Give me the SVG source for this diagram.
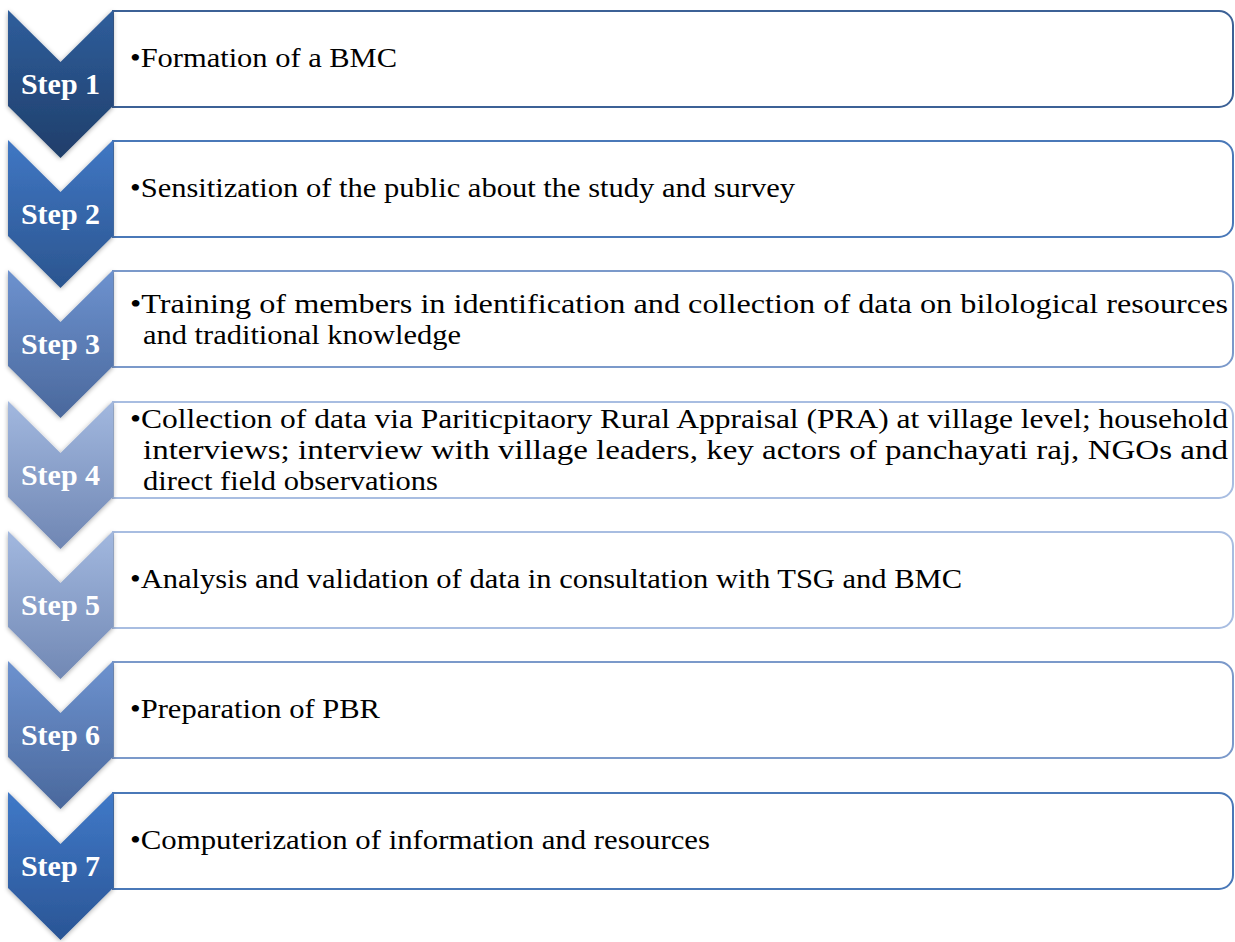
<svg xmlns="http://www.w3.org/2000/svg" width="1235" height="942" viewBox="0 0 1235 942">
<style>
.box{fill:#ffffff;stroke-width:2}
.lbl{font-family:"Liberation Serif","Times New Roman",serif;font-weight:bold;font-size:30px;fill:#ffffff;text-anchor:middle}
.txt{font-family:"Liberation Serif","Times New Roman",serif;font-size:28px;fill:#000000}
.chev{filter:url(#sh)}
</style>
<defs>
<filter id="sh" x="-20%" y="-20%" width="140%" height="140%">
<feGaussianBlur in="SourceAlpha" stdDeviation="2.5"/>
<feOffset dx="0" dy="1" result="b"/>
<feComponentTransfer><feFuncA type="linear" slope="0.35"/></feComponentTransfer>
<feMerge><feMergeNode/><feMergeNode in="SourceGraphic"/></feMerge>
</filter>
<linearGradient id="g1" x1="0" y1="0" x2="0" y2="1"><stop offset="0" stop-color="#2f5e9c"/><stop offset="1" stop-color="#1f3e6a"/></linearGradient>
<linearGradient id="g2" x1="0" y1="0" x2="0" y2="1"><stop offset="0" stop-color="#4077c4"/><stop offset="1" stop-color="#2b558f"/></linearGradient>
<linearGradient id="g3" x1="0" y1="0" x2="0" y2="1"><stop offset="0" stop-color="#6d92cf"/><stop offset="1" stop-color="#4a689c"/></linearGradient>
<linearGradient id="g4" x1="0" y1="0" x2="0" y2="1"><stop offset="0" stop-color="#a2b8df"/><stop offset="1" stop-color="#6f86b3"/></linearGradient>
<linearGradient id="g5" x1="0" y1="0" x2="0" y2="1"><stop offset="0" stop-color="#a2b8df"/><stop offset="1" stop-color="#7188b4"/></linearGradient>
<linearGradient id="g6" x1="0" y1="0" x2="0" y2="1"><stop offset="0" stop-color="#6d92cf"/><stop offset="1" stop-color="#4a689c"/></linearGradient>
<linearGradient id="g7" x1="0" y1="0" x2="0" y2="1"><stop offset="0" stop-color="#4079c8"/><stop offset="1" stop-color="#2a5595"/></linearGradient>
</defs>
<rect width="1235" height="942" fill="#ffffff"/>

<g id="step1">
<path class="box" stroke="#3c6196" d="M113,11 H1219 A14,14 0 0 1 1233,25 V93 A14,14 0 0 1 1219,107 H113 Z"/>
<polygon class="chev" fill="url(#g1)" points="8,10 60.5,62 113,10 113,106 60.5,158 8,106"/>
<text class="lbl" x="60.5" y="94">Step 1</text>
<text class="txt" x="130" y="67" textLength="267" lengthAdjust="spacingAndGlyphs">•Formation of a BMC</text>
</g>

<g id="step2">
<path class="box" stroke="#4a78b8" d="M113,141 H1219 A14,14 0 0 1 1233,155 V223 A14,14 0 0 1 1219,237 H113 Z"/>
<polygon class="chev" fill="url(#g2)" points="8,140 60.5,192 113,140 113,236 60.5,288 8,236"/>
<text class="lbl" x="60.5" y="224">Step 2</text>
<text class="txt" x="130" y="197" textLength="665" lengthAdjust="spacingAndGlyphs">•Sensitization of the public about the study and survey</text>
</g>

<g id="step3">
<path class="box" stroke="#7b99ca" d="M113,271 H1219 A14,14 0 0 1 1233,285 V353 A14,14 0 0 1 1219,367 H113 Z"/>
<polygon class="chev" fill="url(#g3)" points="8,270 60.5,322 113,270 113,366 60.5,418 8,366"/>
<text class="lbl" x="60.5" y="354">Step 3</text>
<text class="txt" x="130" y="313" textLength="1098" lengthAdjust="spacingAndGlyphs">•Training of members in identification and collection of data on bilological resources</text>
<text class="txt" x="143" y="344" textLength="318" lengthAdjust="spacingAndGlyphs">and traditional knowledge</text>
</g>

<g id="step4">
<path class="box" stroke="#a8bde1" d="M113,402 H1219 A14,14 0 0 1 1233,416 V484 A14,14 0 0 1 1219,498 H113 Z"/>
<polygon class="chev" fill="url(#g4)" points="8,401 60.5,453 113,401 113,497 60.5,549 8,497"/>
<text class="lbl" x="60.5" y="485">Step 4</text>
<text class="txt" x="130" y="428" textLength="1098" lengthAdjust="spacingAndGlyphs">•Collection of data via Pariticpitaory Rural Appraisal (PRA) at village level; household</text>
<text class="txt" x="143" y="459" textLength="1085" lengthAdjust="spacingAndGlyphs">interviews; interview with village leaders, key actors of panchayati raj, NGOs and</text>
<text class="txt" x="143" y="490" textLength="295" lengthAdjust="spacingAndGlyphs">direct field observations</text>
</g>

<g id="step5">
<path class="box" stroke="#a8bde1" d="M113,532 H1219 A14,14 0 0 1 1233,546 V614 A14,14 0 0 1 1219,628 H113 Z"/>
<polygon class="chev" fill="url(#g5)" points="8,531 60.5,583 113,531 113,627 60.5,679 8,627"/>
<text class="lbl" x="60.5" y="615">Step 5</text>
<text class="txt" x="130" y="588" textLength="832" lengthAdjust="spacingAndGlyphs">•Analysis and validation of data in consultation with TSG and BMC</text>
</g>

<g id="step6">
<path class="box" stroke="#7b99ca" d="M113,662 H1219 A14,14 0 0 1 1233,676 V744 A14,14 0 0 1 1219,758 H113 Z"/>
<polygon class="chev" fill="url(#g6)" points="8,661 60.5,713 113,661 113,757 60.5,809 8,757"/>
<text class="lbl" x="60.5" y="745">Step 6</text>
<text class="txt" x="130" y="718" textLength="250" lengthAdjust="spacingAndGlyphs">•Preparation of PBR</text>
</g>

<g id="step7">
<path class="box" stroke="#4a78b8" d="M113,793 H1219 A14,14 0 0 1 1233,807 V875 A14,14 0 0 1 1219,889 H113 Z"/>
<polygon class="chev" fill="url(#g7)" points="8,792 60.5,844 113,792 113,888 60.5,940 8,888"/>
<text class="lbl" x="60.5" y="876">Step 7</text>
<text class="txt" x="130" y="849" textLength="580" lengthAdjust="spacingAndGlyphs">•Computerization of information and resources</text>
</g>
</svg>
